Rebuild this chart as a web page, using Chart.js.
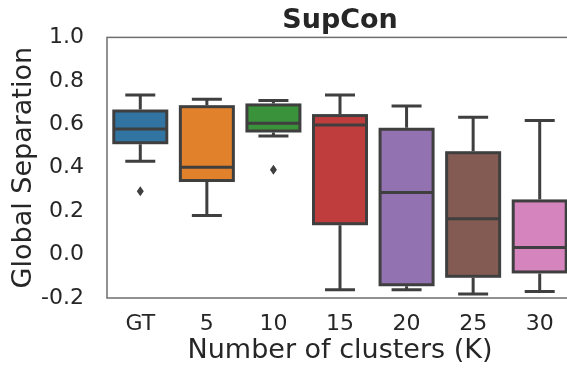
<!DOCTYPE html>
<html>
<head>
<meta charset="utf-8">
<script src="https://cdn.jsdelivr.net/npm/chart.js@4"></script>
<style>
  html, body { margin: 0; padding: 0; background: #fff; overflow: hidden; }
  canvas { display: block; }
</style>
</head>
<body>
<canvas id="chart" width="574" height="369"></canvas>
<script>
// Box-plot summary per clustering setting
const categories  = ["GT", "5", "10", "15", "20", "25", "30"];
const whiskerLow  = [0.430, 0.180, 0.546, -0.162, -0.162, -0.182, -0.170];
const q1          = [0.515, 0.341, 0.569,  0.142, -0.139, -0.100, -0.080];
const median      = [0.578, 0.402, 0.605,  0.597,  0.286,  0.165,  0.033];
const q3          = [0.661, 0.681, 0.689,  0.640,  0.577,  0.469,  0.247];
const whiskerHigh = [0.735, 0.715, 0.709,  0.735,  0.684,  0.632,  0.617];
const outliers    = [[0.292], [], [0.390], [], [], [], []];
const yTicks      = [-0.2, 0.0, 0.2, 0.4, 0.6, 0.8, 1.0];

const boxColors = ["#3274a1", "#e1812c", "#3a923a", "#c03d3e", "#9372b2", "#845b53", "#d684bd"];
const lineGray = "#3f3f3f";
const textColor = "#262626";
const FONT = "'DejaVu Sans', 'Liberation Sans', sans-serif";

// Box outlines (centred on the quartile edges), whiskers, caps, medians and fliers
const boxExtras = {
  id: "boxExtras",
  afterDatasetsDraw(chart) {
    const { ctx, scales: { x, y } } = chart;
    const meta = chart.getDatasetMeta(0);
    ctx.save();
    ctx.strokeStyle = lineGray;
    ctx.fillStyle = lineGray;
    ctx.lineWidth = 3;
    ctx.lineCap = "butt";
    ctx.lineJoin = "miter";
    categories.forEach((c, i) => {
      const cx = x.getPixelForValue(i);
      const bar = meta.data[i];
      const halfBox = bar.width / 2;
      const capHalf = 15;
      const yq1 = y.getPixelForValue(q1[i]);
      const yq3 = y.getPixelForValue(q3[i]);
      const ylo = y.getPixelForValue(whiskerLow[i]);
      const yhi = y.getPixelForValue(whiskerHigh[i]);
      const ymed = y.getPixelForValue(median[i]);
      ctx.strokeRect(cx - halfBox, yq3, halfBox * 2, yq1 - yq3);
      ctx.beginPath();
      // upper whisker + cap
      ctx.moveTo(cx, yq3 - 1.5); ctx.lineTo(cx, yhi);
      ctx.moveTo(cx - capHalf, yhi); ctx.lineTo(cx + capHalf, yhi);
      // lower whisker + cap
      ctx.moveTo(cx, yq1 + 1.5); ctx.lineTo(cx, ylo);
      ctx.moveTo(cx - capHalf, ylo); ctx.lineTo(cx + capHalf, ylo);
      // median
      ctx.moveTo(cx - halfBox, ymed); ctx.lineTo(cx + halfBox, ymed);
      ctx.stroke();
      // fliers as thin diamonds
      outliers[i].forEach(v => {
        const py = y.getPixelForValue(v);
        ctx.beginPath();
        ctx.moveTo(cx, py - 5);
        ctx.lineTo(cx + 3.5, py);
        ctx.lineTo(cx, py + 5);
        ctx.lineTo(cx - 3.5, py);
        ctx.closePath();
        ctx.fill();
      });
    });
    ctx.restore();
  }
};

// Axes frame around the plotting area
const frame = {
  id: "frame",
  afterDraw(chart) {
    const { ctx, chartArea: a } = chart;
    ctx.save();
    ctx.strokeStyle = "#6e6e6e";
    ctx.lineWidth = 1.5;
    ctx.strokeRect(a.left, a.top, a.right - a.left, a.bottom - a.top);
    ctx.restore();
  }
};

new Chart(document.getElementById("chart"), {
  type: "bar",
  data: {
    labels: categories,
    datasets: [{
      data: categories.map((c, i) => [q1[i], q3[i]]),
      backgroundColor: boxColors,
      borderWidth: 0,
      barThickness: 53
    }]
  },
  options: {
    responsive: false,
    animation: false,
    layout: { padding: { left: 0, right: 1, top: 0, bottom: 0 } },
    plugins: {
      legend: { display: false },
      tooltip: { enabled: false },
      title: {
        display: true,
        text: "SupCon",
        fullSize: false,
        color: textColor,
        font: { family: FONT, size: 27, weight: "bold", lineHeight: 1.2 },
        padding: { top: 5, bottom: 0 }
      }
    },
    scales: {
      x: {
        grid: { display: false },
        border: { display: false },
        ticks: { color: textColor, font: { family: FONT, size: 22 }, padding: 5, maxRotation: 0 },
        title: {
          display: true,
          text: "Number of clusters (K)",
          color: textColor,
          font: { family: FONT, size: 27, lineHeight: 1.2 },
          padding: { top: 0, bottom: 2 }
        },
        afterFit(scale) { scale.height = 71; }
      },
      y: {
        min: -0.2,
        max: 1.0,
        grid: { display: false },
        border: { display: false },
        afterBuildTicks(scale) { scale.ticks = yTicks.map(v => ({ value: v })); },
        ticks: {
          color: textColor,
          font: { family: FONT, size: 22 },
          padding: 15,
          callback: v => Number(v).toFixed(1)
        },
        title: {
          display: true,
          text: "Global Separation",
          color: textColor,
          font: { family: FONT, size: 27, lineHeight: 1.2 },
          padding: { top: 8, bottom: 0 }
        },
        afterFit(scale) { scale.width = 107; }
      }
    }
  },
  plugins: [boxExtras, frame]
});
</script>
</body>
</html>
